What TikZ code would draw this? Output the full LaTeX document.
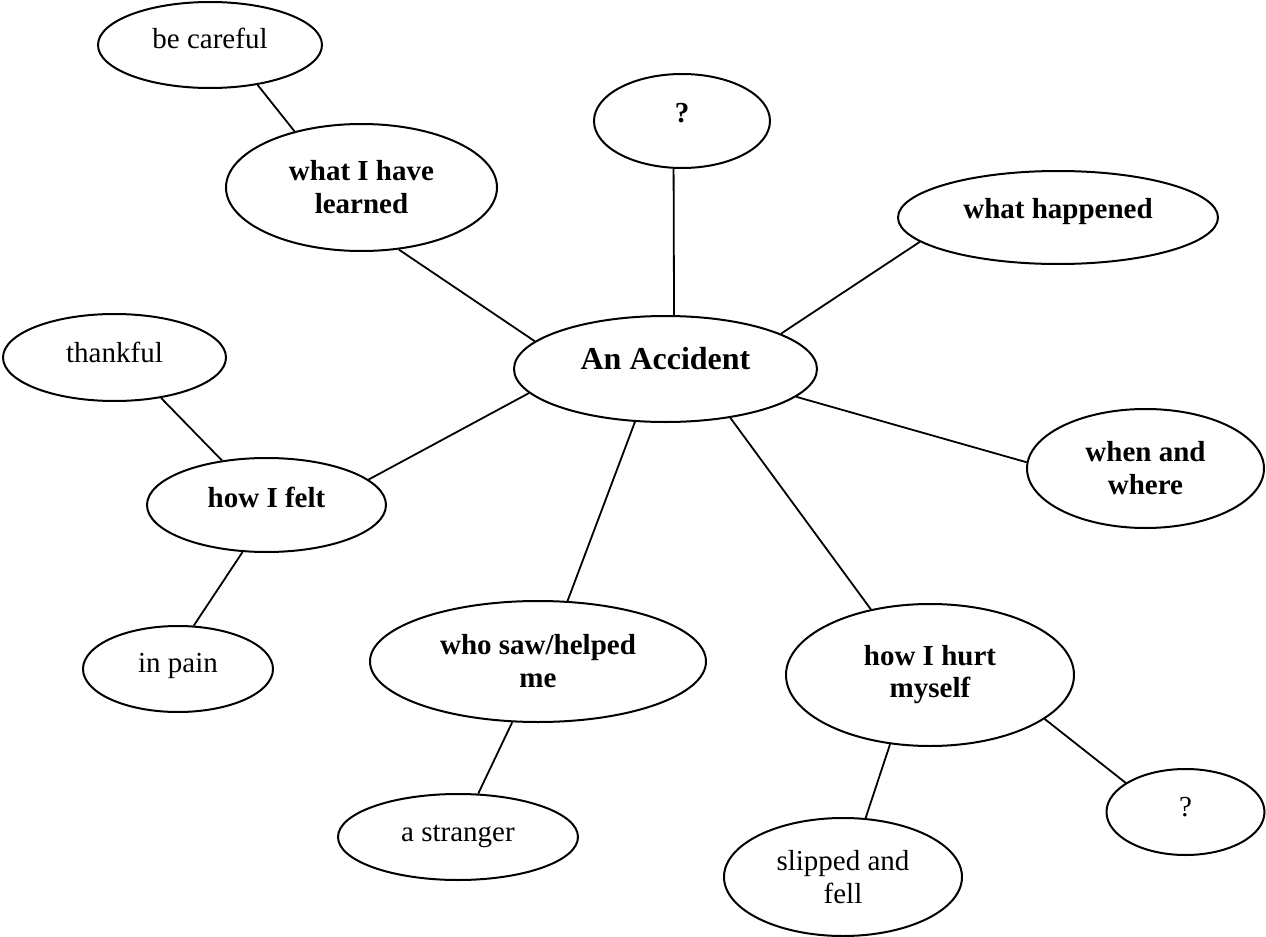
\documentclass[tikz,border=0pt]{standalone}
\usepackage{fontspec}
\setmainfont{Liberation Serif}
\usetikzlibrary{shapes.geometric}
\begin{document}
\begin{tikzpicture}[x=0.5pt,y=-0.5pt,
  bub/.style={ellipse, draw, line width=1pt, inner sep=0pt, align=center,
    font=\fontsize{14.5}{16.5}\selectfont},
  bb/.style={bub, font=\fontsize{14.5}{16.5}\selectfont\bfseries},
  one/.style={text height=10pt, text depth=#1},
  sz/.style 2 args={minimum width=#1, minimum height=#2},
  conn/.style={line width=0.9pt}]
\useasboundingbox (0,0) rectangle (1266,937);

\node[bub, sz={112pt}{43pt}, one=6.2pt]   (care)  at (210,45)      {be careful};
\node[bb,  sz={135.5pt}{63.5pt}]          (learn) at (361.5,187.5) {what I have\\learned};
\node[bb,  sz={88pt}{47pt}, one=8.2pt]    (q1)    at (682,121)     {?};
\node[bb,  sz={160pt}{46.5pt}, one=8.7pt] (hap)   at (1058,217.5)  {what happened};
\node[bb,  sz={151.5pt}{53pt}, font=\fontsize{16}{18}\selectfont\bfseries,
           text height=11pt, text depth=10.6pt] (acc) at (665.5,369) {An Accident};
\node[bub, sz={111.5pt}{43.5pt}, one=5.2pt] (thank) at (114.5,357.5) {thankful};
\node[bb,  sz={119.5pt}{47pt}, one=7.7pt] (felt)  at (266.5,505)   {how I felt};
\node[bb,  sz={118.5pt}{59.5pt}]          (when)  at (1145.5,468.5){when and\\where};
\node[bub, sz={95pt}{43pt}, one=6.2pt]    (pain)  at (178,669)     {in pain};
\node[bb,  sz={168pt}{60.5pt}]            (who)   at (538,661.5)   {who saw/helped\\me};
\node[bb,  sz={144pt}{71pt}]              (hurt)  at (930,675)     {\raisebox{6.5pt}{\begin{tabular}{@{}c@{}}how I hurt\\[-0.4pt]myself\end{tabular}}};
\node[bub, sz={79pt}{43pt}, one=5.2pt]    (q2)    at (1185.5,812)  {?};
\node[bub, sz={120pt}{43pt}, one=5.2pt]   (strg)  at (458,837)     {a stranger};
\node[bub, sz={119pt}{59pt}]              (slip)  at (843,877)     {slipped and\\fell};

\draw[conn] (care.-40.5) -- (learn.140.4);
\draw[conn] (learn.-59.2) -- (acc.168.6);
\draw[conn] (q1.260.5) -- (acc.81);
\draw[conn] (hap.190.1) -- (acc.17.2);
\draw[conn] (thank.-41.6) -- (felt.135.3);
\draw[conn] (felt.14) -- (acc.190.9);
\draw[conn] (acc.-12.6) -- (when.177.3);
\draw[conn] (felt.243) -- (pain.70);
\draw[conn] (acc.240.5) -- (who.64.8);
\draw[conn] (acc.-37.5) -- (hurt.132.8);
\draw[conn] (who.247.9) -- (strg.65.6);
\draw[conn] (hurt.240.3) -- (slip.69);
\draw[conn] (hurt.-21.9) -- (q2.154.2);
\end{tikzpicture}
\end{document}
